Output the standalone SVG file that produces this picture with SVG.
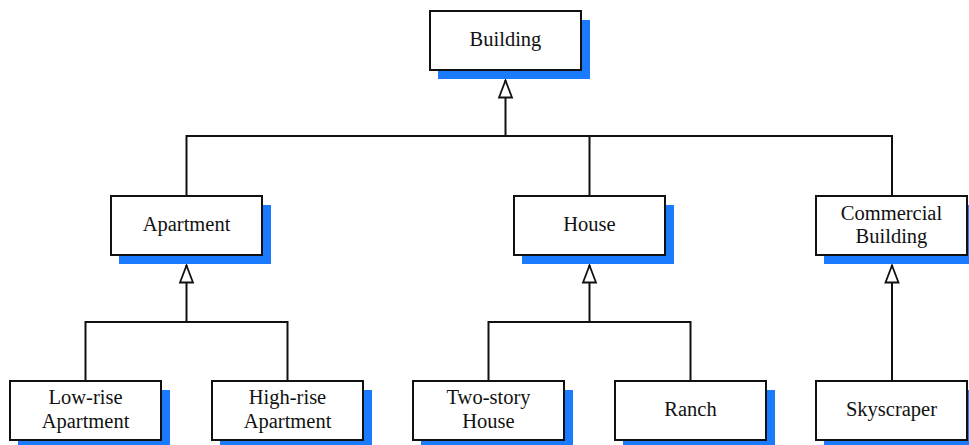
<svg xmlns="http://www.w3.org/2000/svg" width="969" height="445" viewBox="0 0 969 445">
<defs>
<style>
.box{fill:#fff;stroke:#111;stroke-width:2}
.sh{fill:#1a7bff}
.t{font-family:"Liberation Serif","Times New Roman",serif;font-size:20.5px;fill:#111;text-anchor:middle}
.c{fill:none;stroke:#111;stroke-width:2}
</style>
<marker id="tri" viewBox="0 0 18 14" refX="18" refY="7" markerWidth="18" markerHeight="14" markerUnits="userSpaceOnUse" orient="auto" overflow="visible">
<path d="M0.5,0.5 L17.5,7 L0.5,13.5 Z" fill="#fff" stroke="#111" stroke-width="1.8" stroke-linejoin="miter"/>
</marker>
</defs>
<rect width="969" height="445" fill="#fff"/>
<g id="connectors">
<path class="c" d="M505.5 136 V80" marker-end="url(#tri)"/>
<path class="c" d="M186.5 196 V136 H892 V196 M589.5 136 V196"/>
<path class="c" d="M186.5 322 V265" marker-end="url(#tri)"/>
<path class="c" d="M85.5 381 V322 H287.5 V381"/>
<path class="c" d="M589.5 322 V265" marker-end="url(#tri)"/>
<path class="c" d="M488.5 381 V322 H690.5 V381"/>
<path class="c" d="M892 381 V265" marker-end="url(#tri)"/>
</g>
<g id="building">
<rect class="sh" x="438" y="20" width="152" height="59"/>
<rect class="box" x="430" y="11" width="151" height="59"/>
<text class="t" x="505.5" y="46">Building</text>
</g>
<g id="apartment">
<rect class="sh" x="119" y="205" width="152" height="59"/>
<rect class="box" x="111" y="196" width="151" height="59"/>
<text class="t" x="186.5" y="230.5">Apartment</text>
</g>
<g id="house">
<rect class="sh" x="522" y="205" width="152" height="59"/>
<rect class="box" x="514" y="196" width="151" height="59"/>
<text class="t" x="589.5" y="230.5">House</text>
</g>
<g id="commercial">
<rect class="sh" x="824" y="205" width="152" height="59"/>
<rect class="box" x="816" y="196" width="151" height="59"/>
<text class="t" x="891.5" y="220">Commercial</text>
<text class="t" x="891.5" y="243">Building</text>
</g>
<g id="lowrise">
<rect class="sh" x="18" y="390" width="152" height="59"/>
<rect class="box" x="10" y="381" width="151" height="59"/>
<text class="t" x="85.5" y="404">Low-rise</text>
<text class="t" x="85.5" y="428">Apartment</text>
</g>
<g id="highrise">
<rect class="sh" x="220" y="390" width="152" height="59"/>
<rect class="box" x="212" y="381" width="151" height="59"/>
<text class="t" x="287.5" y="404">High-rise</text>
<text class="t" x="287.5" y="428">Apartment</text>
</g>
<g id="twostory">
<rect class="sh" x="421" y="390" width="152" height="59"/>
<rect class="box" x="413" y="381" width="151" height="59"/>
<text class="t" x="488.5" y="404">Two-story</text>
<text class="t" x="488.5" y="428">House</text>
</g>
<g id="ranch">
<rect class="sh" x="623" y="390" width="152" height="59"/>
<rect class="box" x="615" y="381" width="151" height="59"/>
<text class="t" x="690.5" y="416">Ranch</text>
</g>
<g id="skyscraper">
<rect class="sh" x="824" y="390" width="152" height="59"/>
<rect class="box" x="816" y="381" width="151" height="59"/>
<text class="t" x="891.5" y="416">Skyscraper</text>
</g>
</svg>
